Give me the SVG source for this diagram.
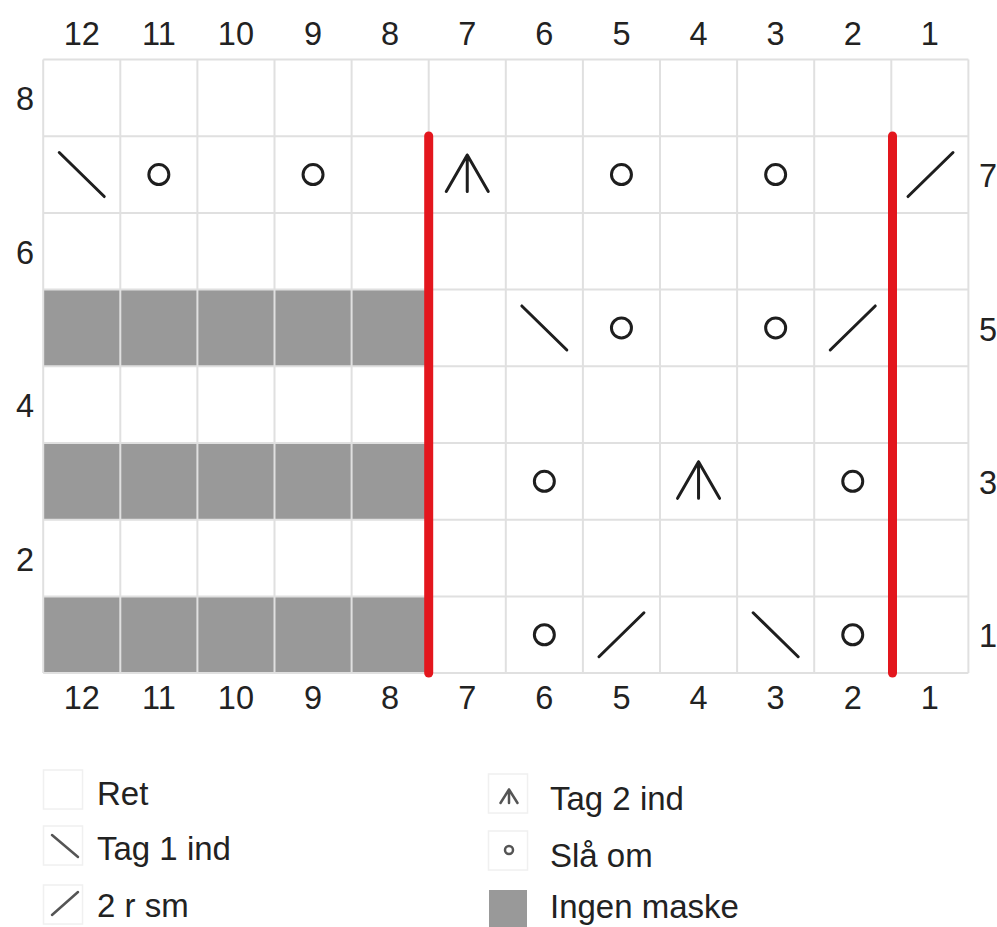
<svg xmlns="http://www.w3.org/2000/svg" xmlns:xlink="http://www.w3.org/1999/xlink" width="997" height="927" viewBox="0 0 997 927">
<style>
.num{font-family:"Liberation Sans",Arial,sans-serif;font-size:32.5px;fill:#222;text-anchor:middle}
.lbl{font-family:"Liberation Sans",Arial,sans-serif;font-size:33px;fill:#222}
.grid{stroke:#e0e0e0;stroke-width:2;fill:none}
.gray{fill:#999999}
.sym{stroke:#1e1e1e;stroke-width:3;fill:none;stroke-linecap:round;stroke-linejoin:round}
.lsym{stroke:#555;stroke-width:2.5;fill:none;stroke-linecap:round;stroke-linejoin:round}
.lbox{fill:#fff;stroke:#f0f0f0;stroke-width:1.5}
.red{stroke:#e3161d;stroke-width:9;stroke-linecap:round}
</style>
<defs>
<path id="k2tog" d="M-22.5,-22 L22.5,22"/>
<path id="ssk" d="M-22.5,22 L22.5,-22"/>
<circle id="yo" r="10"/>
<path id="dec2" d="M-21,17 L0,-19.5 L21,17 M0,-19.5 V17"/>
</defs>
<rect width="997" height="927" fill="#fff"/>
<g id="gray-cells" class="gray">
<rect x="43.2" y="289.6" width="385.5" height="76.7"/>
<rect x="43.2" y="443" width="385.5" height="76.7"/>
<rect x="43.2" y="596.4" width="385.5" height="76.7"/>
</g>
<g id="grid" class="grid">
<path d="M43.2,59.5V673.1M120.3,59.5V673.1M197.4,59.5V673.1M274.5,59.5V673.1M351.6,59.5V673.1M428.7,59.5V673.1M505.8,59.5V673.1M582.9,59.5V673.1M660,59.5V673.1M737.1,59.5V673.1M814.2,59.5V673.1M891.3,59.5V673.1M968.4,59.5V673.1"/>
<path d="M43.2,59.5H968.4M43.2,136.2H968.4M43.2,212.9H968.4M43.2,289.6H968.4M43.2,366.3H968.4M43.2,443H968.4M43.2,519.7H968.4M43.2,596.4H968.4M43.2,673.1H968.4"/>
</g>
<g id="symbols" class="sym">
<g id="row7">
<use href="#k2tog" x="81.75" y="174.55"/>
<use href="#yo" x="158.85" y="174.55"/>
<use href="#yo" x="313.05" y="174.55"/>
<use href="#dec2" x="467.25" y="174.55"/>
<use href="#yo" x="621.45" y="174.55"/>
<use href="#yo" x="775.65" y="174.55"/>
<use href="#ssk" x="930.5" y="174.55"/>
</g>
<g id="row5">
<use href="#k2tog" x="544.35" y="327.95"/>
<use href="#yo" x="621.45" y="327.95"/>
<use href="#yo" x="775.65" y="327.95"/>
<use href="#ssk" x="852.75" y="327.95"/>
</g>
<g id="row3">
<use href="#yo" x="544.35" y="481.35"/>
<use href="#dec2" x="698.55" y="481.35"/>
<use href="#yo" x="852.75" y="481.35"/>
</g>
<g id="row1">
<use href="#yo" x="544.35" y="634.75"/>
<use href="#ssk" x="621.45" y="634.75"/>
<use href="#k2tog" x="775.65" y="634.75"/>
<use href="#yo" x="852.75" y="634.75"/>
</g>
</g>
<g id="repeat-lines">
<line class="red" x1="428.7" y1="136" x2="428.7" y2="673"/>
<line class="red" x1="892.5" y1="136" x2="892.5" y2="673"/>
</g>
<g id="top-numbers" class="num">
<text x="81.75" y="45">12</text><text x="158.85" y="45">11</text><text x="235.95" y="45">10</text><text x="313.05" y="45">9</text><text x="390.15" y="45">8</text><text x="467.25" y="45">7</text><text x="544.35" y="45">6</text><text x="621.45" y="45">5</text><text x="698.55" y="45">4</text><text x="775.65" y="45">3</text><text x="852.75" y="45">2</text><text x="929.85" y="45">1</text>
</g>
<g id="bottom-numbers" class="num">
<text x="81.75" y="709">12</text><text x="158.85" y="709">11</text><text x="235.95" y="709">10</text><text x="313.05" y="709">9</text><text x="390.15" y="709">8</text><text x="467.25" y="709">7</text><text x="544.35" y="709">6</text><text x="621.45" y="709">5</text><text x="698.55" y="709">4</text><text x="775.65" y="709">3</text><text x="852.75" y="709">2</text><text x="929.85" y="709">1</text>
</g>
<g id="left-numbers" class="num">
<text x="25" y="110">8</text><text x="25" y="263.5">6</text><text x="25" y="417">4</text><text x="25" y="570.5">2</text>
</g>
<g id="right-numbers" class="num">
<text x="988" y="187">7</text><text x="988" y="340.5">5</text><text x="988" y="494">3</text><text x="988" y="647">1</text>
</g>
<g id="legend">
<g id="legend-ret"><rect class="lbox" x="43.5" y="770" width="39" height="39"/><text class="lbl" x="97" y="805">Ret</text></g>
<g id="legend-tag1"><rect class="lbox" x="43.5" y="826" width="39" height="39"/><path class="lsym" d="M52,835 L78,857"/><text class="lbl" x="97" y="860">Tag 1 ind</text></g>
<g id="legend-2rsm"><rect class="lbox" x="43.5" y="885" width="39" height="39"/><path class="lsym" d="M52,915 L78,892"/><text class="lbl" x="97" y="917">2 r sm</text></g>
<g id="legend-tag2"><rect class="lbox" x="488.5" y="774" width="39" height="39"/><path class="lsym" d="M500.5,803 L509,789.5 L517.5,803 M509,789.5 V803"/><text class="lbl" x="550" y="810">Tag 2 ind</text></g>
<g id="legend-slaaom"><rect class="lbox" x="488.5" y="831" width="39" height="39"/><circle class="lsym" cx="509" cy="850" r="4"/><text class="lbl" x="550" y="867">Slå om</text></g>
<g id="legend-ingen"><rect class="gray" x="489" y="890" width="38" height="37"/><text class="lbl" x="550" y="918">Ingen maske</text></g>
</g>
</svg>
